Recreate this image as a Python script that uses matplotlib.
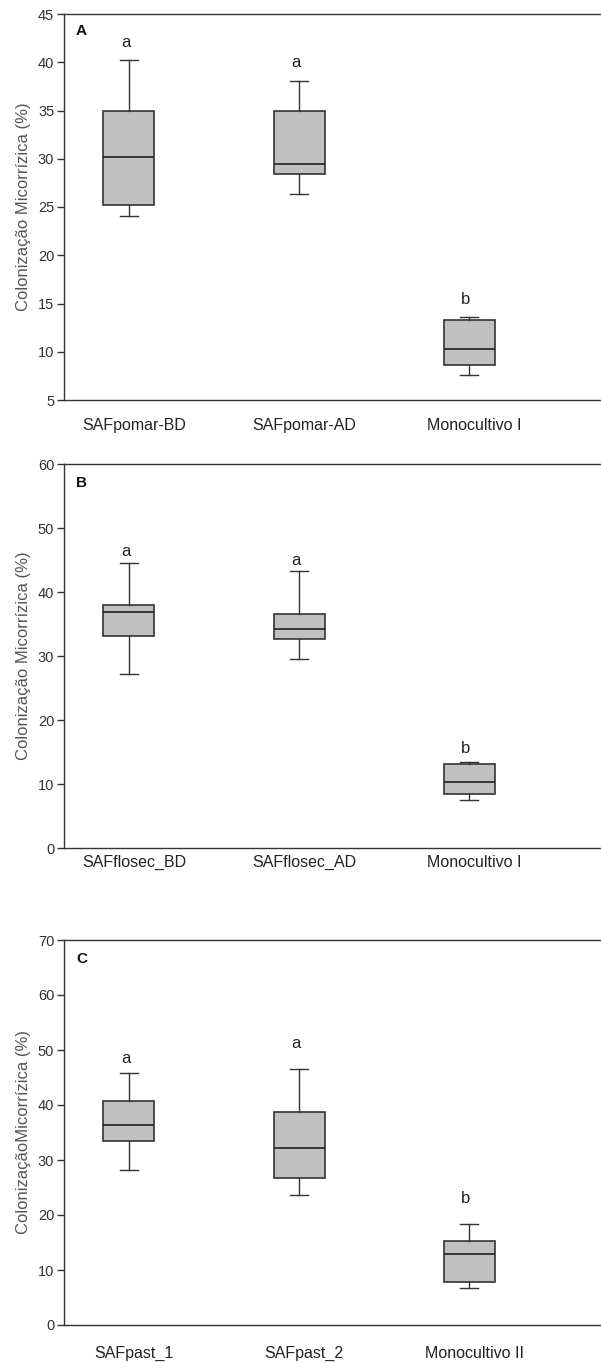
import matplotlib.pyplot as plt

plt.rcParams['font.family'] = ['Liberation Sans', 'DejaVu Sans']

# Box statistics: (whisker low, Q1, median, Q3, whisker high)
labels_a = ["SAFpomar-BD", "SAFpomar-AD", "Monocultivo I"]
stats_a = [
    (24.1, 25.2, 30.2, 34.9, 40.2),
    (26.3, 28.4, 29.5, 35.0, 38.1),
    (7.6, 8.6, 10.3, 13.3, 13.6),
]
letters_a = ["a", "a", "b"]
letter_y_a = [42.0, 40.0, 15.4]

labels_b = ["SAFflosec_BD", "SAFflosec_AD", "Monocultivo I"]
stats_b = [
    (27.2, 33.2, 36.8, 38.0, 44.6),
    (29.5, 32.6, 34.2, 36.5, 43.3),
    (7.5, 8.4, 10.3, 13.2, 13.5),
]
letters_b = ["a", "a", "b"]
letter_y_b = [46.3, 44.9, 15.6]

labels_c = ["SAFpast_1", "SAFpast_2", "Monocultivo II"]
stats_c = [
    (28.2, 33.5, 36.3, 40.8, 45.8),
    (23.6, 26.7, 32.1, 38.8, 46.6),
    (6.8, 7.8, 13.0, 15.3, 18.4),
]
letters_c = ["a", "a", "b"]
letter_y_c = [48.4, 51.1, 23.0]

W, H = 601, 1363
fig = plt.figure(figsize=(W / 100, H / 100), dpi=100)


def panel(top, bottom, ylim, yticks, labels, stats, letters, letter_y, tag, tag_y,
          ylabel, label_pad):
    ax = fig.add_axes([64 / W, 1 - bottom / H, 1 - 64 / W, (bottom - top) / H])
    bxp = []
    for lo, q1, med, q3, hi in stats:
        bxp.append(dict(whislo=lo, q1=q1, med=med, q3=q3, whishi=hi, fliers=[]))
    ax.bxp(bxp, positions=[1, 2, 3], widths=0.3, patch_artist=True,
           showfliers=False,
           boxprops=dict(facecolor="#c0c0c0", edgecolor="#333333", linewidth=1.2),
           medianprops=dict(color="#222222", linewidth=1.2),
           whiskerprops=dict(color="#333333", linewidth=1.0),
           capprops=dict(color="#333333", linewidth=1.0),
           capwidths=0.11)
    ax.set_xlim(1 - 65 / 170, 3 + 132 / 170)
    ax.set_ylim(*ylim)
    ax.set_yticks(yticks)
    ax.set_xticks([1.03, 2.03, 3.03])
    ax.set_xticklabels(labels, fontsize=11.5, color="#222222")
    ax.tick_params(axis="x", length=0, pad=label_pad)
    ax.tick_params(axis="y", length=5, width=1, direction="out", labelsize=10.5,
                   labelcolor="#333333", color="#333333", pad=2)
    ax.spines["right"].set_visible(False)
    for s in ["left", "bottom", "top"]:
        ax.spines[s].set_color("#333333")
        ax.spines[s].set_linewidth(1.0)
    for i, (t, y) in enumerate(zip(letters, letter_y)):
        ax.text(i + 0.98, y, t, ha="center", va="center", fontsize=12, color="#222222")
    ax.text(1 - 65 / 170 + 0.07, tag_y, tag, ha="left", va="center", fontsize=11,
            fontweight="bold", color="#111111")
    ax.set_ylabel(ylabel, fontsize=12, color="#555555", labelpad=5)
    return ax


panel(14, 400, (5, 45), range(5, 46, 5), labels_a, stats_a, letters_a, letter_y_a,
      "A", 43.2, "Colonização Micorrízica (%)", 13)
panel(464, 848, (0, 60), range(0, 61, 10), labels_b, stats_b, letters_b, letter_y_b,
      "B", 57.0, "Colonização Micorrízica (%)", 5)
panel(940, 1325, (0, 70), range(0, 71, 10), labels_c, stats_c, letters_c, letter_y_c,
      "C", 66.5, "ColonizaçãoMicorrízica (%)", 15)

fig.savefig("out.png", dpi=100)
